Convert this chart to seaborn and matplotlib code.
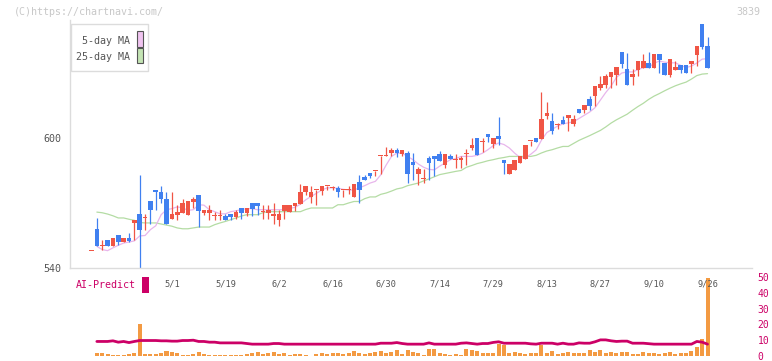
import numpy as np
import pandas as pd
import matplotlib
matplotlib.use("Agg")
import matplotlib.pyplot as plt
from matplotlib.patches import Rectangle
import seaborn as sns

# ---------------- data ----------------
date_labels = ['5/1', '5/19', '6/2', '6/16', '6/30', '7/14', '7/29', '8/13', '8/27', '9/10', '9/26']
date_index = [15, 25, 35, 45, 55, 65, 75, 85, 95, 105, 115]

opens = [548.0, 558.1, 550.2, 553.0, 550.0, 555.0, 551.8, 554.0, 560.6, 565.0,
         563.0, 571.1, 576.1, 575.2, 572.0, 562.7, 564.6, 565.5, 564.6, 570.6,
         573.8, 565.5, 565.5, 564.0, 564.0, 564.1, 565.0, 563.7, 567.8, 565.5,
         570.1, 570.1, 566.0, 565.5, 564.1, 562.0, 566.4, 566.0, 568.7, 569.7,
         575.0, 572.9, 576.0, 575.7, 577.9, 577.0, 577.1, 576.0, 576.0, 572.6,
         579.8, 582.1, 584.0, 584.8, 591.7, 591.7, 593.0, 594.4, 592.6, 593.0,
         589.1, 583.5, 581.1, 590.9, 591.8, 592.8, 587.7, 591.8, 589.9, 590.0,
         592.7, 595.5, 600.1, 598.2, 602.0, 597.3, 601.1, 590.0, 583.5, 585.4,
         588.6, 590.4, 598.6, 600.1, 599.7, 610.3, 607.9, 606.0, 608.4, 609.4,
         606.6, 613.4, 612.9, 617.9, 619.3, 623.2, 624.6, 628.3, 629.2, 639.8,
         632.0, 628.3, 631.5, 632.5, 634.7, 632.5, 638.9, 634.7, 629.2, 631.5,
         633.8, 633.8, 634.3, 638.4, 652.7, 642.6]
highs = [548.0, 563.2, 553.0, 553.0, 554.0, 555.0, 554.0, 556.3, 562.2, 583.1,
         565.0, 571.1, 576.1, 578.0, 575.2, 575.2, 569.2, 572.0, 571.1, 572.9,
         573.8, 566.9, 569.2, 566.0, 566.9, 565.0, 565.0, 566.9, 567.8, 567.8,
         570.1, 570.1, 569.2, 569.2, 570.1, 566.9, 569.2, 569.2, 570.1, 578.9,
         578.0, 577.7, 576.1, 578.0, 578.0, 578.0, 578.0, 576.1, 578.0, 578.9,
         583.1, 583.1, 584.0, 584.9, 591.8, 596.0, 595.3, 595.3, 594.4, 594.1,
         593.0, 586.8, 585.8, 591.8, 591.8, 594.1, 592.8, 592.8, 592.8, 591.8,
         595.1, 600.1, 600.1, 600.1, 602.0, 600.1, 609.8, 590.0, 588.1, 590.0,
         591.8, 596.9, 598.7, 600.1, 621.0, 616.8, 611.7, 607.1, 610.2, 610.8,
         610.8, 613.4, 615.2, 619.3, 623.9, 628.7, 629.7, 630.6, 632.9, 639.8,
         639.0, 632.0, 635.7, 638.9, 639.8, 638.9, 638.9, 634.7, 636.6, 635.7,
         633.8, 633.8, 635.7, 642.6, 652.7, 646.7]
lows = [548.0, 550.0, 548.4, 550.0, 550.0, 550.8, 551.8, 551.8, 553.0, 540.0,
        557.6, 560.4, 566.6, 569.8, 560.4, 562.7, 562.0, 565.5, 564.6, 567.5,
        558.7, 564.6, 562.0, 562.0, 562.0, 562.0, 562.0, 562.7, 562.7, 563.8,
        563.8, 564.6, 562.7, 562.7, 560.4, 559.5, 562.7, 566.0, 566.4, 569.7,
        573.5, 569.8, 568.9, 573.5, 576.1, 576.1, 572.6, 572.6, 574.3, 572.6,
        569.8, 580.7, 581.7, 582.6, 583.5, 591.7, 591.8, 591.3, 591.5, 579.4,
        580.7, 578.4, 579.4, 580.7, 582.6, 589.6, 586.3, 590.4, 586.3, 586.3,
        587.7, 594.6, 592.3, 593.7, 598.3, 595.5, 596.9, 583.5, 583.5, 585.4,
        588.6, 590.4, 596.4, 598.3, 599.7, 608.7, 601.8, 604.3, 606.6, 603.3,
        605.7, 611.5, 611.5, 612.9, 614.7, 622.3, 623.2, 623.2, 624.6, 632.5,
        624.6, 624.6, 628.7, 632.5, 632.5, 632.5, 630.1, 629.2, 628.3, 631.5,
        630.1, 630.1, 630.1, 633.4, 641.2, 632.5]
closes = [548.0, 550.0, 550.5, 550.0, 554.0, 551.8, 554.0, 552.6, 562.2, 557.6,
          563.2, 566.6, 574.9, 571.7, 560.4, 565.0, 566.0, 570.1, 571.1, 572.0,
          566.4, 566.9, 566.9, 564.2, 564.2, 562.0, 563.7, 566.0, 565.5, 567.8,
          567.3, 568.7, 566.1, 566.9, 565.0, 565.0, 569.2, 569.2, 570.1, 575.2,
          578.0, 575.2, 576.1, 578.0, 578.0, 577.1, 574.9, 576.1, 576.1, 578.9,
          575.8, 580.7, 582.6, 584.9, 591.8, 591.8, 594.4, 593.0, 594.4, 583.5,
          587.7, 585.8, 581.2, 588.6, 590.4, 589.6, 592.8, 590.4, 590.0, 590.9,
          592.8, 596.9, 592.3, 598.3, 600.6, 600.1, 599.7, 588.6, 588.1, 590.0,
          591.8, 596.9, 598.7, 598.3, 608.9, 611.7, 603.3, 606.1, 606.6, 610.8,
          608.9, 611.5, 615.2, 614.7, 623.9, 625.1, 628.7, 630.6, 632.9, 634.3,
          624.6, 629.7, 635.7, 635.7, 632.5, 638.9, 636.1, 629.2, 636.6, 632.9,
          631.5, 630.1, 635.7, 642.6, 642.1, 632.5]

ma5 = [np.nan, 550.0, 548.5, 548.0, 549.3, 550.5, 551.5, 552.0, 552.5, 554.8,
       555.0, 557.7, 559.5, 564.6, 566.9, 567.4, 568.2, 567.8, 566.6, 566.9,
       569.2, 569.0, 566.9, 566.0, 565.0, 565.0, 566.0, 566.4, 567.0, 567.4,
       567.4, 566.9, 566.9, 566.9, 566.9, 566.9, 566.9, 567.5, 568.0, 569.5,
       571.5, 573.0, 574.5, 576.0, 577.0, 577.0, 576.8, 576.3, 576.0, 576.0,
       577.0, 578.0, 579.2, 580.0, 583.0, 587.5, 591.5, 593.0, 593.0, 591.5,
       590.0, 588.0, 586.5, 585.5, 585.3, 587.0, 588.5, 590.0, 590.5, 591.5,
       591.5, 591.5, 592.0, 593.0, 594.6, 596.5, 597.7, 597.0, 595.4, 593.0,
       591.0, 590.8, 592.5, 594.5, 599.0, 602.5, 604.0, 605.5, 606.5, 607.0,
       607.5, 609.0, 610.5, 612.0, 614.0, 617.5, 621.0, 624.0, 628.0, 630.0,
       630.5, 630.5, 631.5, 632.5, 632.5, 634.5, 635.5, 635.0, 634.7, 634.7,
       633.5, 632.5, 633.2, 634.6, 636.4, 636.6]
ma25 = [np.nan, 565.8, 565.5, 564.9, 564.1, 563.1, 563.1, 562.5, 562.0, 561.0,
        560.8, 560.8, 560.8, 560.3, 559.8, 559.3, 558.5, 558.1, 558.1, 558.5,
        558.9, 558.9, 558.9, 560.0, 560.8, 561.5, 562.3, 563.1, 564.0, 564.6,
        564.6, 564.6, 565.5, 566.0, 566.0, 566.0, 566.0, 566.0, 566.0, 566.0,
        567.0, 567.7, 567.7, 567.7, 567.7, 567.7, 569.2, 569.2, 570.0, 570.7,
        570.7, 572.0, 572.8, 572.8, 574.0, 574.6, 575.5, 576.5, 577.0, 578.0,
        578.6, 579.2, 580.2, 581.1, 582.1, 583.1, 583.6, 584.1, 584.6, 585.0,
        586.5, 587.3, 588.2, 588.8, 589.5, 590.0, 590.6, 591.0, 591.5, 591.5,
        591.5, 591.5, 591.5, 592.0, 593.1, 594.0, 594.6, 595.4, 596.1, 596.1,
        597.5, 598.9, 600.0, 601.1, 602.3, 603.5, 605.1, 606.9, 608.4, 609.7,
        611.0, 612.8, 614.5, 616.0, 617.8, 619.3, 620.5, 621.8, 623.0, 624.1,
        625.0, 625.8, 627.2, 628.8, 629.5, 629.7]

volume = [0.0, 1.9, 1.9, 1.3, 0.6, 0.6, 0.6, 1.3, 1.9, 20.0,
          1.3, 1.3, 1.3, 1.9, 3.1, 2.5, 1.9, 0.6, 0.6, 1.3,
          2.5, 1.3, 0.6, 0.6, 0.6, 0.6, 0.6, 0.6, 0.6, 1.3,
          1.9, 2.5, 1.3, 1.9, 2.5, 1.3, 1.9, 0.6, 1.3, 1.3,
          0.6, 0.3, 1.3, 1.9, 1.3, 1.9, 1.9, 1.3, 1.9, 3.1,
          1.9, 1.3, 1.9, 2.5, 3.1, 1.9, 2.5, 3.8, 1.25, 3.75,
          2.5, 1.9, 0.6, 4.4, 4.4, 1.9, 1.25, 0.6, 1.25, 0.6,
          4.4, 3.75, 3.1, 1.9, 1.9, 1.9, 7.5, 6.9, 1.9, 2.5,
          1.9, 1.25, 1.9, 1.9, 6.9, 1.9, 3.1, 1.25, 1.9, 2.5,
          1.9, 1.9, 1.9, 3.75, 2.5, 3.75, 1.9, 2.5, 1.9, 2.5,
          2.5, 1.25, 1.25, 2.5, 1.9, 1.9, 1.25, 1.9, 2.5, 1.25,
          1.9, 1.9, 3.1, 5.6, 10.6, 49.4]

ai_predict = [np.nan, 9.2, 9.2, 9.2, 9.6, 8.75, 9.2, 8.5, 9.2, 9.8,
              9.8, 9.8, 9.8, 9.6, 9.6, 9.4, 9.4, 9.8, 9.8, 10.0,
              9.2, 9.2, 8.75, 8.75, 8.3, 8.3, 8.3, 8.3, 8.3, 7.9,
              7.5, 7.5, 7.5, 7.5, 7.9, 7.9, 7.5, 7.5, 7.5, 7.5,
              7.5, 7.5, 7.5, 7.5, 7.5, 7.5, 7.5, 7.5, 7.5, 7.5,
              7.5, 7.5, 7.5, 7.5, 8.1, 8.1, 8.1, 8.5, 7.9, 7.5,
              7.5, 7.5, 7.5, 8.3, 7.5, 7.5, 7.5, 7.5, 7.5, 8.1,
              8.3, 7.9, 7.5, 7.9, 7.9, 8.6, 9.0, 8.1, 8.1, 8.1,
              8.1, 8.1, 7.7, 7.5, 8.1, 8.1, 8.1, 7.5, 8.1, 7.5,
              7.5, 8.3, 8.1, 8.1, 9.0, 10.2, 10.2, 9.6, 9.2, 9.4,
              9.4, 8.1, 8.1, 8.1, 7.8, 7.5, 7.5, 7.5, 7.5, 7.5,
              7.5, 7.5, 7.5, 9.2, 8.75, 7.5]

# ---------------- style ----------------
sns.set_theme(style="white")
plt.rcParams['font.family'] = ['DejaVu Sans Mono', 'DejaVu Sans']

W, H = 772, 361
UP = "#f05545"
DOWN = "#4080f0"
MA5_C = "#e8b6ec"
MA25_C = "#b4dca4"
AI_C = "#cc0066"
VOL_C = "#f39a42"
GRID_C = "#dcdcdc"
TXT_C = "#555555"


def fx(x):
    return x / W


def fy(y):
    return 1 - y / H


fig = plt.figure(figsize=(W / 100, H / 100), dpi=100)
fig.patch.set_facecolor("white")

df = pd.DataFrame({
    "idx": np.arange(len(closes)),
    "open": opens, "high": highs, "low": lows, "close": closes,
    "ma5": ma5, "ma25": ma25, "volume": volume, "ai": ai_predict,
})

x_left = -4.013
x_right = 123.3

# ---------------- volume panel ----------------
axv = fig.add_axes([fx(70), fy(356), fx(752) - fx(70), fy(277) - fy(356)])
axv.patch.set_visible(False)
sns.barplot(data=df, x="idx", y="volume", native_scale=True, width=0.75,
            color=VOL_C, saturation=1, linewidth=0, errorbar=None, ax=axv)
sns.lineplot(data=df, x="idx", y="ai", color=AI_C, linewidth=2.0, ax=axv)
axv.set_xlim(x_left, x_right)
axv.set_ylim(0, 50)
axv.set_xlabel("")
axv.set_ylabel("")
for s in axv.spines.values():
    s.set_visible(False)
axv.set_xticks([])
axv.yaxis.tick_right()
axv.set_yticks([0, 10, 20, 30, 40, 50])
axv.tick_params(axis="y", length=0, pad=4, labelsize=7.0, labelcolor=AI_C)

# ---------------- price panel ----------------
ax = fig.add_axes([fx(70), fy(268), fx(752) - fx(70), fy(20) - fy(268)])
ax.patch.set_visible(False)
sns.lineplot(data=df, x="idx", y="ma25", color=MA25_C, linewidth=0.9, ax=ax, zorder=1)
sns.lineplot(data=df, x="idx", y="ma5", color=MA5_C, linewidth=0.9, ax=ax, zorder=1)

body_w = 0.86
for i, (o, h, l, c) in enumerate(zip(opens, highs, lows, closes)):
    col = UP if c >= o else DOWN
    ax.vlines(i, l, h, color=col, linewidth=0.9, zorder=2)
    lo = min(o, c)
    hgt = max(abs(c - o), 0.5)
    ax.bar(i, hgt, bottom=lo, width=body_w, color=col, linewidth=0, zorder=3)

ax.set_xlim(x_left, x_right)
ax.set_ylim(540, 654.46)
ax.set_xlabel("")
ax.set_ylabel("")
ax.spines["top"].set_visible(False)
ax.spines["right"].set_visible(False)
ax.spines["left"].set_color(GRID_C)
ax.spines["bottom"].set_color(GRID_C)
ax.spines["left"].set_linewidth(1.0)
ax.spines["bottom"].set_linewidth(1.0)

major_ticks = [x_left + 11.574 * k for k in range(1, 12)]
ax.set_xticks(major_ticks)
ax.set_xticklabels([])
ax.set_xticks(date_index, labels=date_labels, minor=True)
ax.tick_params(axis="x", which="major", direction="inout", length=6, width=1.0, color=GRID_C)
ax.tick_params(axis="x", which="minor", length=0, pad=8, labelsize=6.2, labelcolor=TXT_C)
ax.set_yticks([540, 600])
ax.tick_params(axis="y", direction="inout", length=6, width=1.0, color=GRID_C,
               pad=3, labelsize=7.2, labelcolor=TXT_C)

# ---------------- legend (manual) ----------------
fig.patches.append(Rectangle((fx(70.5), fy(71.3)), fx(148.3) - fx(70.5), fy(24) - fy(71.3),
                             transform=fig.transFigure, facecolor="white",
                             edgecolor=GRID_C, linewidth=1.0, zorder=5))
fig.text(fx(130), fy(40.7), "5-day MA", ha="right", va="center", fontsize=7.2,
         color=TXT_C, zorder=6)
fig.text(fx(130), fy(57.3), "25-day MA", ha="right", va="center", fontsize=7.2,
         color=TXT_C, zorder=6)
fig.patches.append(Rectangle((fx(136.5), fy(46.7)), fx(142.5) - fx(136.5), fy(31) - fy(46.7),
                             transform=fig.transFigure, facecolor="#f0c4f0",
                             edgecolor="#555555", linewidth=0.8, zorder=6))
fig.patches.append(Rectangle((fx(136.5), fy(63.3)), fx(142.5) - fx(136.5), fy(48.3) - fy(63.3),
                             transform=fig.transFigure, facecolor="#c4e4b4",
                             edgecolor="#555555", linewidth=0.8, zorder=6))

# ---------------- AI-Predict label ----------------
fig.text(fx(76), fy(285), "AI-Predict", ha="left", va="center", fontsize=7.2, color=AI_C)
fig.patches.append(Rectangle((fx(142), fy(292.7)), fx(149) - fx(142), fy(277) - fy(292.7),
                             transform=fig.transFigure, facecolor=AI_C, linewidth=0))

# ---------------- watermark ----------------
fig.text(fx(14), fy(12), "(C)https://chartnavi.com/", ha="left", va="center",
         fontsize=7.2, color="#c8c8c8")
fig.text(fx(760), fy(12), "3839", ha="right", va="center", fontsize=7.2, color="#c8c8c8")

fig.savefig("out.png", dpi=100, facecolor="white")
